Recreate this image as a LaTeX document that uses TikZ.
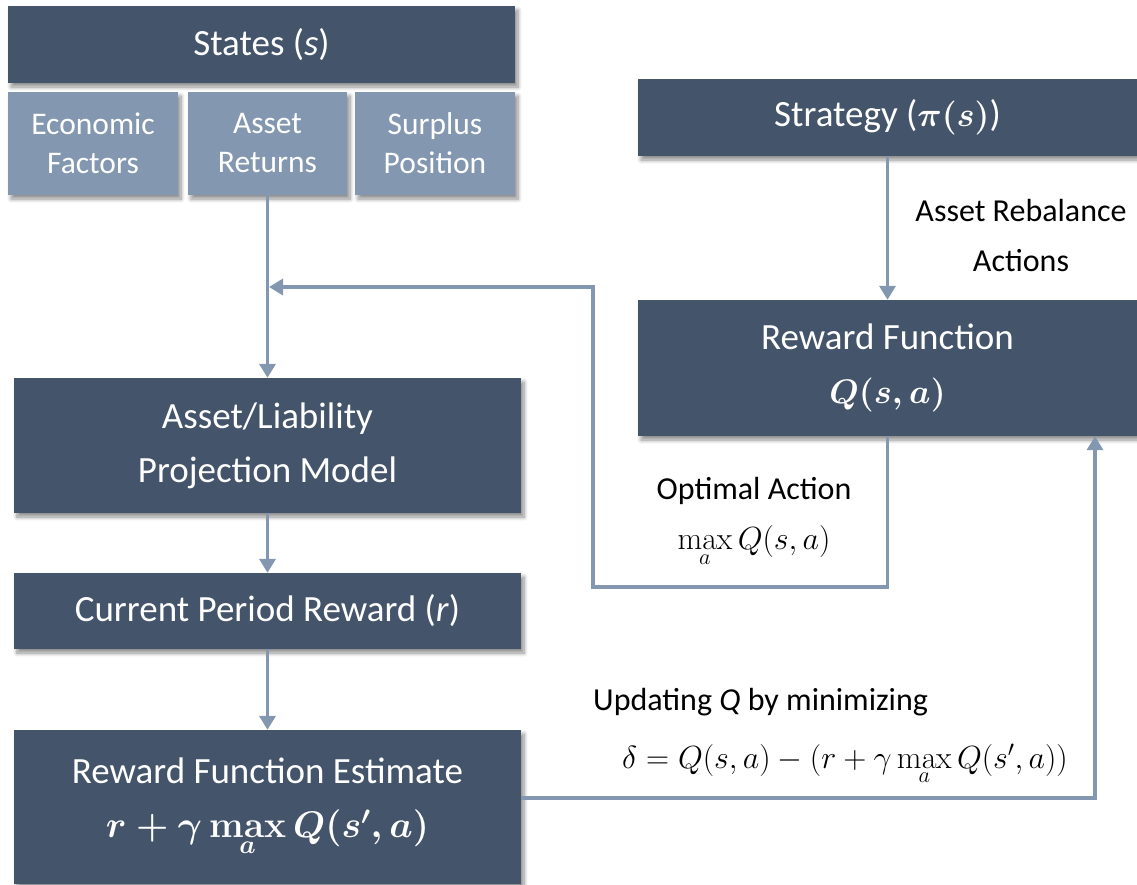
\RequirePackage{fix-cm}
\documentclass[tikz,border=0pt]{standalone}
\usepackage{amsmath,bm}
\usepackage[no-math]{fontspec}
\setmainfont{Carlito}
\usetikzlibrary{arrows.meta,shadows.blur}
\definecolor{slate}{HTML}{44546A}
\definecolor{steel}{HTML}{8497B0}
\begin{document}
\begin{tikzpicture}[x=1pt,y=-1pt,
  shade/.style={blur shadow={shadow xshift=3pt,shadow yshift=-4pt,shadow blur steps=8,shadow blur radius=4pt,shadow opacity=45}},
  darkbox/.style={rectangle,fill=slate,text=white,inner sep=0pt,align=center,shade,
    font=\fontsize{37}{54}\selectfont},
  lightbox/.style={rectangle,fill=steel,text=white,inner sep=0pt,align=center,shade,
    font=\fontsize{31.5}{39}\selectfont},
  lbl/.style={inner sep=0pt,text=black,font=\fontsize{32}{50}\selectfont},
  flow/.style={draw=steel,line width=3.5pt,-{Triangle[width=16pt,length=14pt]}}]
\useasboundingbox (0,0) rectangle (1137,884);

% state variables
\node[darkbox,minimum width=507pt,minimum height=77pt] (ST) at (261.5,44.5) {States (\textit{s})};
\node[lightbox,minimum width=170pt,minimum height=103pt] (EF) at (93,143.5) {Economic\\Factors};
\node[lightbox,minimum width=159pt,minimum height=103pt] (AR) at (267.5,143.5) {Asset\\Returns};
\node[lightbox,minimum width=160pt,minimum height=103pt] (SP) at (435,143.5) {Surplus\\Position};

% policy side
\node[darkbox,minimum width=499pt,minimum height=77pt] (PI) at (887.5,117.5) {Strategy ({\fontsize{34}{40}\selectfont\boldmath$\pi(s)$})};
\node[darkbox,minimum width=499pt,minimum height=136pt] (RF) at (887.5,368) {Reward Function\\{\fontsize{34}{40}\selectfont\boldmath$Q(s,a)$}};

% model chain
\node[darkbox,minimum width=507pt,minimum height=135pt] (AL) at (267.5,445.5) {Asset/Liability\\Projection Model};
\node[darkbox,minimum width=507pt,minimum height=76pt] (CR) at (267.5,611) {Current Period Reward (\textit{r})};
\node[darkbox,minimum width=507pt,minimum height=154pt] (RE) at (267.5,807) {Reward Function Estimate\\{\boldmath$r+\gamma\max\limits_a Q(s',a)$}};

% labels
\node[lbl,align=center] (lreb) at (1021,236) {Asset Rebalance\\Actions};
\node[lbl,align=center] (lopt) at (754,522) {Optimal Action\\$\max\limits_a Q(s,a)$};
\node[lbl,anchor=base west] (lupd) at (593,710) {Updating \textit{Q} by minimizing};
\node[lbl,anchor=base west] (ldel) at (622,768) {$\delta = Q(s,a)-(r+\gamma\max\limits_a Q(s',a))$};

% connectors
\coordinate (fbA) at (593,587);
\coordinate (fbB) at (593,287);
\coordinate (fbC) at (269,287);
\coordinate (upA) at (1095,798);

\draw[flow] (AR.south) -- (AL.north);
\draw[flow] (RF.south) |- (fbA) -- (fbB) -- (fbC);
\draw[flow] (PI.south) -- (RF.north);
\draw[flow] (AL.south) -- (CR.north);
\draw[flow] (CR.south) -- (RE.north);
\draw[flow] ([yshift=9pt]RE.east) -- (upA) -- (upA |- RF.south);
\end{tikzpicture}
\end{document}
